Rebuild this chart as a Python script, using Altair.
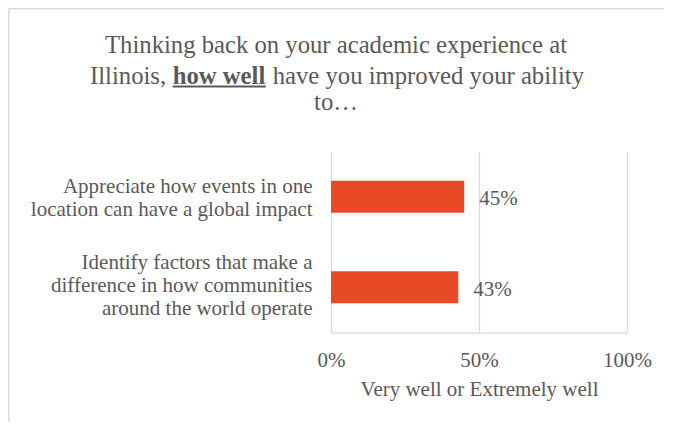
import altair as alt
import pandas as pd

# ---- data ----
label_lines = [
    ["Appreciate how events in one", "location can have a global impact"],
    ["Identify factors that make a", "difference in how communities", "around the world operate"],
]
values = [0.45, 0.43]
tick_values = [0, 0.5, 1]
title_line1 = "Thinking back on your academic experience at"
title_line2 = ["Illinois,", "how well", "have you improved your ability"]
title_line3 = "to\u2026"
x_title = "Very well or Extremely well"

categories = ["|".join(l) for l in label_lines]
df = pd.DataFrame({"item": categories, "pct": values})

FONT = "Liberation Serif"
GRAY = "#595959"
LIGHT = "#d9d9d9"
BAR = "#E84A27"

one = alt.Data(values=[{"k": 1}])

x_enc = alt.X(
    "pct:Q",
    scale=alt.Scale(domain=[0, 1], nice=False),
    axis=alt.Axis(
        values=tick_values, format="%", title=x_title, labelPadding=17,
        labelFlush=False, grid=True, gridColor=LIGHT, gridWidth=1.25,
        domainColor=LIGHT, domainWidth=1.25, ticks=False,
        titleY=63, titleBaseline="alphabetic", titleFontWeight="normal",
        labelFont=FONT, titleFont=FONT,
    ),
)
y_enc = alt.Y(
    "item:N", sort=None,
    scale=alt.Scale(paddingInner=0, paddingOuter=0),
    axis=alt.Axis(
        title=None, domain=False, ticks=False, grid=False, labelPadding=19,
        labelLineHeight=23, labelLimit=500, labelExpr="split(datum.label, '|')",
        labelBaseline="alphabetic", labelFont=FONT, labelFontSize=21, labelColor=GRAY,
        labelOffset={"condition": {"test": "length(split(datum.label, '|')) == 3", "value": -18},
                     "value": -4},
    ),
)

bars = alt.Chart(df).mark_bar(size=32, color=BAR).encode(x=x_enc, y=y_enc)
labels = alt.Chart(df).mark_text(
    align="left", baseline="middle", dx=15, dy=2.5, fontSize=21, font=FONT, color=GRAY
).encode(x="pct:Q", y=alt.Y("item:N", sort=None), text=alt.Text("pct:Q", format=".0%"))

def txt(s, x, y, align="left", weight="normal"):
    return alt.Chart(one).mark_text(
        align=align, baseline="alphabetic", fontSize=24.7, font=FONT, color=GRAY,
        fontWeight=weight,
    ).encode(x=alt.value(x), y=alt.value(y), text=alt.value(s))

t1 = txt(title_line1, 5, -98.5, align="center")
t2a = txt(title_line2[0], -241, -68)
t2b = txt(title_line2[1], -158.3, -68, weight="bold")
t2c = txt(title_line2[2], -58.3, -68)
t3 = txt(title_line3, 5, -41.5, align="center")
underline = alt.Chart(one).mark_rule(color=GRAY, strokeWidth=2).encode(
    x=alt.value(-158.3), x2=alt.value(-65.3), y=alt.value(-65)
)

border_top = alt.Chart(one).mark_rule(color=LIGHT, strokeWidth=1.5).encode(
    x=alt.value(-322.3), x2=alt.value(400), y=alt.value(-142.8)
)
border_left = alt.Chart(one).mark_rule(color=LIGHT, strokeWidth=1.5).encode(
    x=alt.value(-322.3), y=alt.value(-142.8), y2=alt.value(400)
)

chart = alt.layer(
    border_top, border_left, bars, labels, t1, t2a, t2b, t2c, t3, underline
).properties(
    width=296, height=181,
    autosize=alt.AutoSizeParams(type="none"),
    padding={"left": 323, "top": 143.5, "right": 37, "bottom": 89},
    background="white",
).configure_view(strokeWidth=0).configure_axis(
    labelFont=FONT, labelFontSize=21, labelColor=GRAY,
    titleFont=FONT, titleFontSize=21, titleColor=GRAY,
)

chart.save("out.html", embed_options={"renderer": "svg", "actions": False})
